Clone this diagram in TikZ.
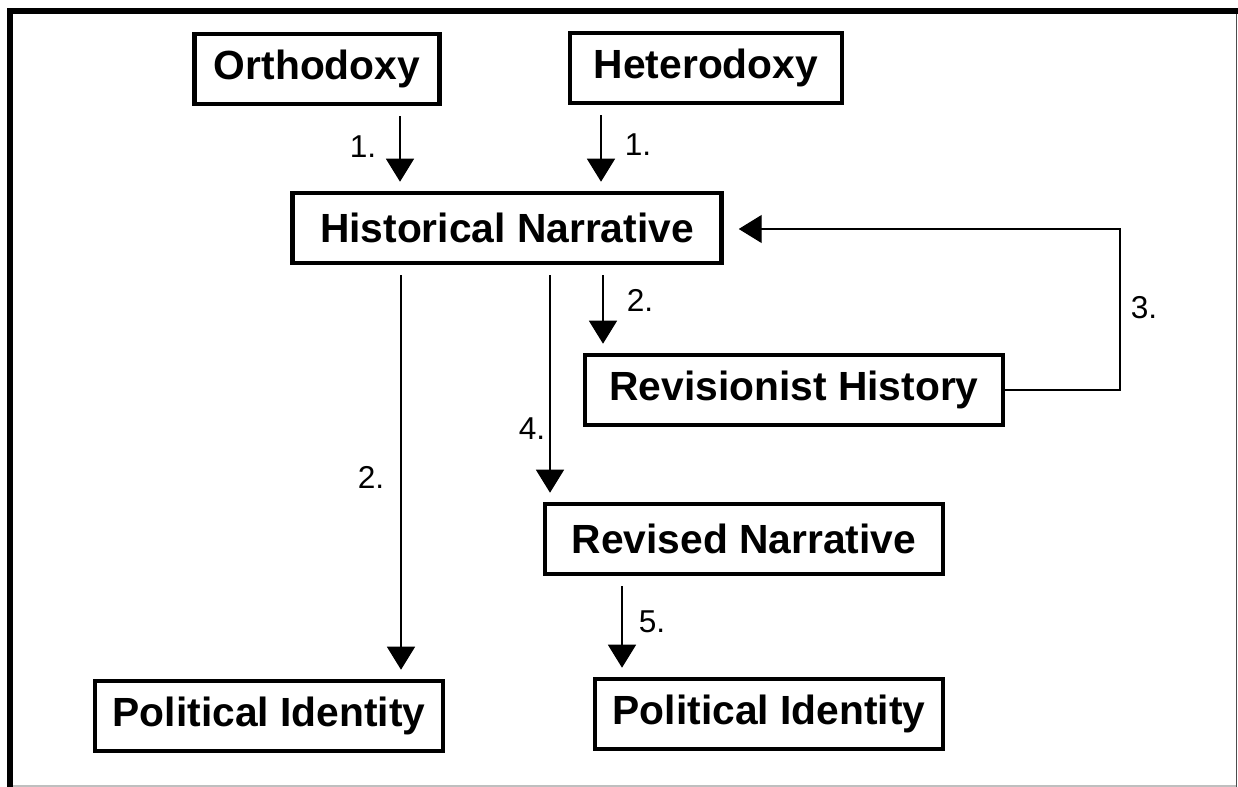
\documentclass[tikz,border=0pt]{standalone}
\usepackage{fontspec}
\setmainfont{Liberation Sans}
\usetikzlibrary{arrows.meta}

\begin{document}
\begin{tikzpicture}[x=0.02cm, y=-0.02cm,
  stage/.style={draw=black, line width=2.6pt, inner sep=0, minimum height=1.4cm, font=\fontsize{23.2}{28}\selectfont\bfseries},
  flow/.style={line width=0.8pt, -{Triangle[width=0.56cm,length=0.46cm]}, shorten <=0.2cm, shorten >=0.18cm},
  num/.style={font=\fontsize{18}{22}\selectfont}]
\useasboundingbox (0,0) rectangle (1238,787);
% frame
\draw[line width=3.4pt] (10,787) -- (10,11) -- (1238,11);
\draw[line width=0.8pt, black!70] (1236.5,14) -- (1236.5,787);
\draw[line width=0.8pt, black!25] (13,786) -- (1236,786);
% boxes
\node[stage, minimum width=4.9cm]  (ortho) at (317,69)  {Orthodoxy};
\node[stage, minimum width=5.44cm] (hetero) at (706,68) {Heterodoxy};
\node[stage, minimum width=8.58cm] (hist) at (507,228)  {Historical Narrative\hspace{0.4cm}};
\node[stage, minimum width=8.36cm] (revhist) at (794,390) {Revisionist History};
\node[stage, minimum width=7.96cm] (revnar) at (744,539)  {Revised Narrative};
\node[stage, minimum width=6.96cm] (polA) at (269,716)  {Political Identity};
\node[stage, minimum width=6.96cm] (polB) at (769,714)  {Political Identity};
% arrows
\draw[flow] (ortho.south -| 400,0) -- (hist.north -| 400,0);
\draw[flow] (hetero.south -| 601,0) -- (hist.north -| 601,0);
\draw[flow] (hist.south -| 603,0) -- (revhist.north -| 603,0);
\draw[flow] (hist.south -| 401,0) -- (polA.north -| 401,0);
\draw[flow] (hist.south -| 550,0) -- (revnar.north -| 550,0);
\draw[flow] (revnar.south -| 622,0) -- (polB.north -| 622,0);
\draw[flow, shorten <=0pt, shorten >=0.3cm] (revhist.east) -| (1120,229) -- (hist.east |- 0,229);
% numbers
\node[num] (n1a) at (363,147) {1.};
\node[num] (n1b) at (638,145) {1.};
\node[num] (n2a) at (640,300) {2.};
\node[num] (n3)  at (1144,308) {3.};
\node[num] (n4)  at (532,429) {4.};
\node[num] (n2b) at (371,477) {2.};
\node[num] (n5)  at (652,622) {5.};
\end{tikzpicture}
\end{document}
